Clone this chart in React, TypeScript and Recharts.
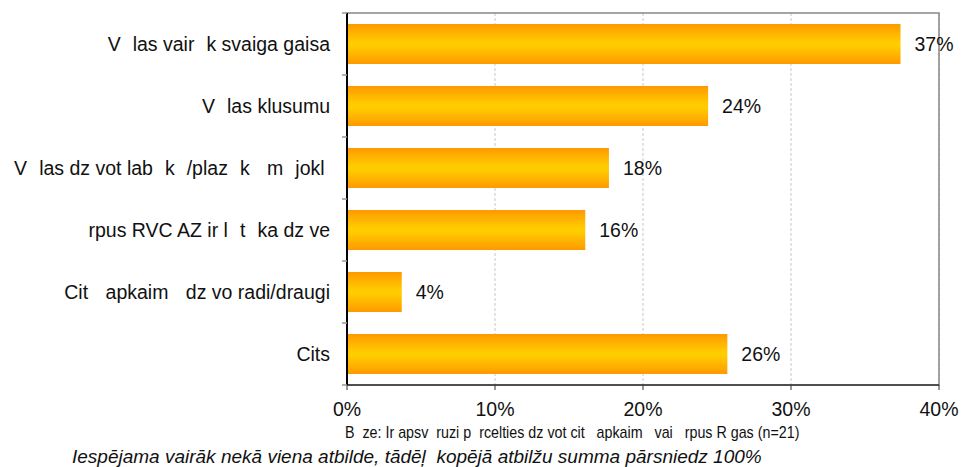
import React from 'react';
import {
  BarChart,
  Bar,
  XAxis,
  YAxis,
  CartesianGrid,
  LabelList,
  ReferenceArea,
} from 'recharts';

// the source lost its Latvian long vowels; they show up as blanks
const W = '\u2007';

const categories = [
  `V${W}las vair${W}k svaiga gaisa`,
  `V${W}las klusumu`,
  `V${W}las dz vot lab${W}k${W}/plaz${W}k${W} m${W}jokl `,
  `rpus RVC AZ ir l${W}t${W}ka dz ve`,
  `Cit${W} apkaim${W} dz vo radi/draugi`,
  'Cits',
];
const shares = [37.4, 24.4, 17.7, 16.1, 3.7, 25.7];
const xTicks = [0, 10, 20, 30, 40];

const baseNote = `B${W}ze: Ir apsv${W}ruzi p${W}rcelties dz vot cit${W} apkaim${W} vai ${W}rpus R gas (n=21)`;
const footNote = 'Iespējama vairāk nekā viena atbilde, tādēļ  kopējā atbilžu summa pārsniedz 100%';

const data = categories.map((name, i) => ({ name, value: shares[i] }));

const FONT = '"Liberation Sans", Arial, sans-serif';
const FS = 19.5;
const CHART_TOP = 13;
const CHART_BOTTOM = 82;
const HEIGHT = 467;
const BAND = (HEIGHT - CHART_TOP - CHART_BOTTOM) / categories.length;
const BLANK = 12; // width of a lost glyph

function CategoryTick(props: any) {
  const { x, y, payload, index } = props;
  const last = index === categories.length - 1;
  const parts = String(payload.value).split(W);
  return (
    <g>
      <line x1={x - 5} x2={x} y1={y - BAND / 2} y2={y - BAND / 2} stroke="#999" strokeWidth={1.5} />
      {last && (
        <line x1={x - 5} x2={x} y1={y + BAND / 2} y2={y + BAND / 2} stroke="#999" strokeWidth={1.5} />
      )}
      <text
        x={x - 17}
        y={y}
        dy="0.35em"
        textAnchor="end"
        fontSize={FS}
        fill="#111"
        style={{ whiteSpace: 'pre', fontFamily: FONT }}
      >
        {parts.map((p, i) => (
          <tspan key={i} dx={i === 0 ? 0 : BLANK}>
            {p}
          </tspan>
        ))}
      </text>
    </g>
  );
}

export default function App() {
  return (
    <div
      style={{
        position: 'absolute',
        left: 0,
        top: 0,
        width: 961,
        height: HEIGHT,
        background: '#fff',
        fontFamily: FONT,
        overflow: 'hidden',
      }}
    >
      <BarChart
        width={961}
        height={HEIGHT}
        data={data}
        layout="vertical"
        margin={{ top: CHART_TOP, right: 22, left: 0, bottom: CHART_BOTTOM - 30 }}
        barCategoryGap={11}
      >
        <defs>
          <linearGradient id="barFill" x1="0" y1="0" x2="0" y2="1">
            <stop offset="0%" stopColor="#FF9900" />
            <stop offset="45%" stopColor="#FFCC00" />
            <stop offset="55%" stopColor="#FFCC00" />
            <stop offset="100%" stopColor="#FF9900" />
          </linearGradient>
        </defs>
        <CartesianGrid horizontal={false} stroke="#c8c8c8" strokeDasharray="3 2" />
        <ReferenceArea x1={0} x2={40} fill="none" stroke="#888" strokeWidth={1.5} ifOverflow="visible" />
        <XAxis
          type="number"
          domain={[0, 40]}
          ticks={xTicks}
          tickFormatter={(v: number) => `${v}%`}
          height={30}
          tickSize={5}
          tickMargin={12}
          axisLine={{ stroke: '#333', strokeWidth: 1.5 }}
          tickLine={{ stroke: '#333' }}
          tick={{ fontSize: FS, fill: '#111', fontFamily: FONT }}
        />
        <YAxis
          type="category"
          dataKey="name"
          width={347}
          tickSize={0}
          tickMargin={0}
          tickLine={false}
          axisLine={{ stroke: '#000', strokeWidth: 2 }}
          tick={<CategoryTick />}
          interval={0}
        />
        <Bar dataKey="value" fill="url(#barFill)" isAnimationActive={false}>
          <LabelList
            dataKey="value"
            position="right"
            offset={14}
            formatter={(v: any) => `${Math.round(Number(v))}%`}
            style={{ fontSize: FS, fill: '#111', fontFamily: FONT }}
          />
        </Bar>
      </BarChart>
      <div
        style={{
          position: 'absolute',
          left: 345,
          top: 423,
          fontSize: 17,
          color: '#111',
          whiteSpace: 'pre',
          lineHeight: '20px',
          transform: 'scaleX(0.84)',
          transformOrigin: 'left center',
        }}
      >
        {baseNote}
      </div>
      <div
        style={{
          position: 'absolute',
          left: 72,
          top: 447,
          fontSize: 19,
          fontStyle: 'italic',
          color: '#111',
          whiteSpace: 'pre',
          lineHeight: '20px',
        }}
      >
        {footNote}
      </div>
    </div>
  );
}
